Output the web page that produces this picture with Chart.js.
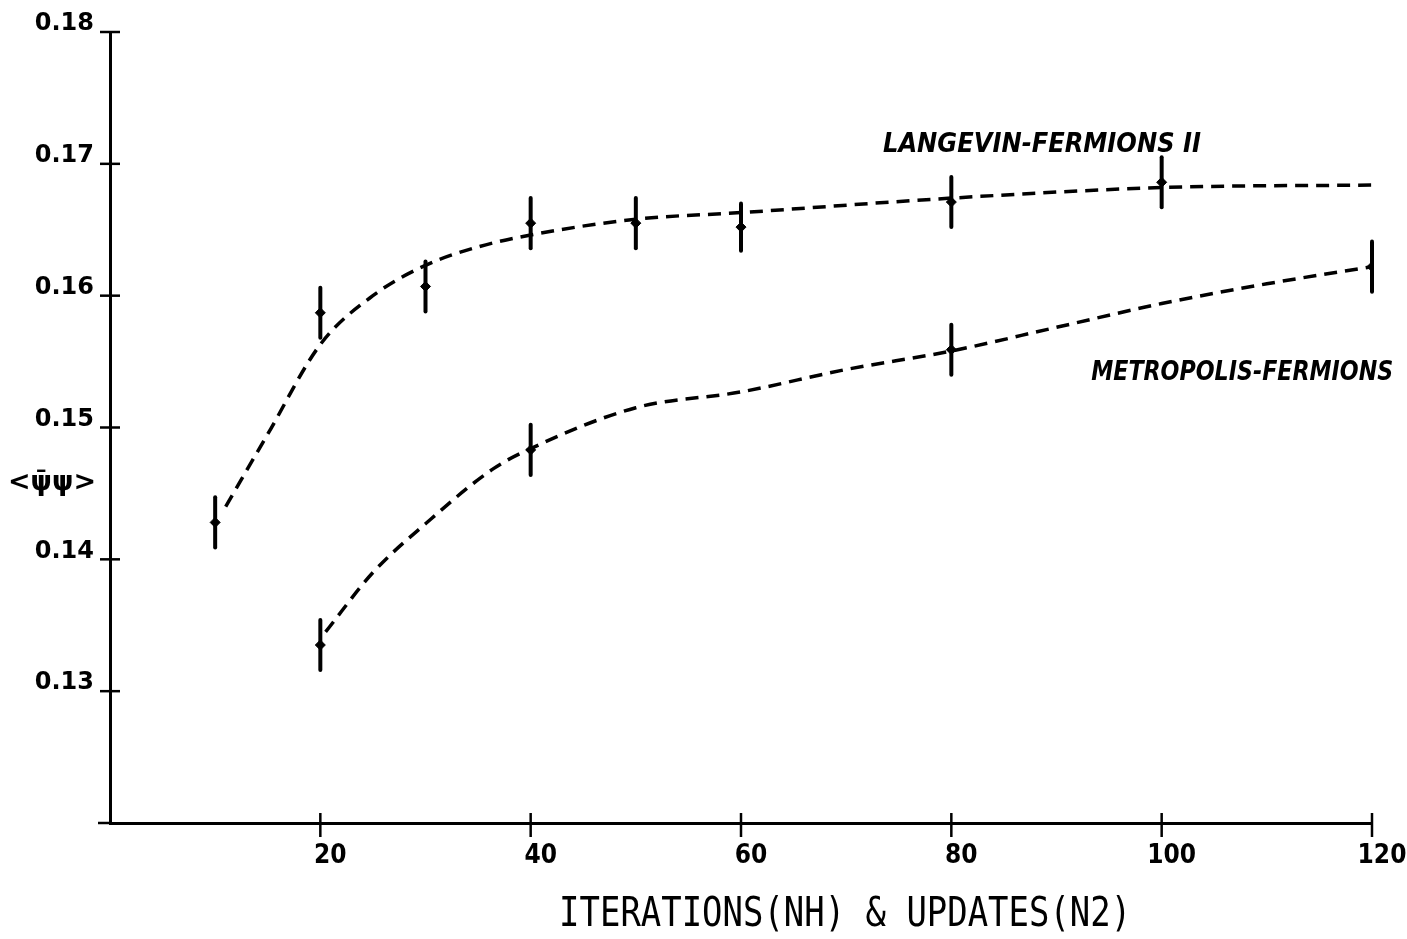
<!DOCTYPE html>
<html lang="en">
<head>
    <meta charset="UTF-8">
    <title>Langevin vs Metropolis fermions</title>
    <script src="https://cdn.jsdelivr.net/npm/chart.js"></script>
    <style>
        html, body { margin: 0; padding: 0; background: #fff; }
        .chart-container { position: relative; width: 1407px; height: 939px; }
    </style>
</head>
<body>
    <div class="chart-container">
        <canvas id="fermionChart"></canvas>
    </div>

    <script>
        // axis ticks
        const xTickValues = [0, 20, 40, 60, 80, 100, 120];
        const yTickValues = [0.12, 0.13, 0.14, 0.15, 0.16, 0.17, 0.18];

        // measured points with error bars
        const langevinX = [10, 20, 30, 40, 50, 60, 80, 100];
        const langevinY = [0.1428, 0.1587, 0.1607, 0.1655, 0.1655, 0.1652, 0.1671, 0.1686];
        const langevinErr = [0.0019, 0.0019, 0.0019, 0.0019, 0.0019, 0.0018, 0.0019, 0.0019];

        const metropolisX = [20, 40, 80, 120];
        const metropolisY = [0.1335, 0.1483, 0.1559, 0.1622];
        const metropolisErr = [0.0019, 0.0019, 0.0019, 0.0019];

        // dashed guide curves
        const langevinCurveX = [11, 15, 20, 25, 30, 35, 40, 50, 60, 80, 100, 121];
        const langevinCurveY = [0.1440, 0.1495, 0.1563, 0.1600, 0.1623, 0.1637, 0.1646, 0.1658, 0.1663, 0.1674, 0.1682, 0.1684];

        const metropolisCurveX = [20.5, 25, 30, 36.5, 40, 50, 60, 70, 80, 90, 100, 110, 120];
        const metropolisCurveY = [0.1345, 0.1390, 0.1427, 0.1469, 0.1484, 0.1515, 0.1527, 0.1544, 0.1558, 0.1576, 0.1594, 0.1609, 0.1622];

        function toPoints(xs, ys) {
            return xs.map((x, i) => ({ x: x, y: ys[i] }));
        }

        // curve labels, anchored in data coordinates
        const curveLabels = [
            { text: 'LANGEVIN-FERMIONS II', x: 73.5, y: 0.1714, width: 318 },
            { text: 'METROPOLIS-FERMIONS', x: 93.3, y: 0.1541, width: 302 }
        ];
        const xTitle = 'ITERATIONS(NH) & UPDATES(N2)';

        const errorBarPlugin = {
            id: 'errorBars',
            afterDatasetsDraw(chart) {
                const { ctx, scales: { x, y } } = chart;
                const sets = [
                    [langevinX, langevinY, langevinErr],
                    [metropolisX, metropolisY, metropolisErr]
                ];
                ctx.save();
                ctx.strokeStyle = '#000';
                ctx.lineWidth = 4;
                ctx.lineCap = 'round';
                sets.forEach(([xs, ys, errs]) => {
                    xs.forEach((v, i) => {
                        const px = x.getPixelForValue(v);
                        ctx.beginPath();
                        ctx.moveTo(px, y.getPixelForValue(ys[i] + errs[i]));
                        ctx.lineTo(px, y.getPixelForValue(ys[i] - errs[i]));
                        ctx.stroke();
                    });
                });
                ctx.restore();
            }
        };

        const decorPlugin = {
            id: 'decor',
            afterDraw(chart) {
                const { ctx, chartArea, scales: { x, y } } = chart;
                const x0 = chartArea.left;
                const y0 = chartArea.bottom;
                ctx.save();
                ctx.strokeStyle = '#000';
                ctx.lineWidth = 2.5;
                // crossing tick marks
                yTickValues.slice(1).forEach(v => {
                    const py = y.getPixelForValue(v);
                    ctx.beginPath();
                    ctx.moveTo(x0 - 10, py);
                    ctx.lineTo(x0 + 10, py);
                    ctx.stroke();
                });
                xTickValues.slice(1).forEach(v => {
                    const px = x.getPixelForValue(v);
                    ctx.beginPath();
                    ctx.moveTo(px, y0 - 10);
                    ctx.lineTo(px, y0 + 14);
                    ctx.stroke();
                });
                ctx.beginPath();
                ctx.moveTo(x0 - 12, y0);
                ctx.lineTo(x0, y0);
                ctx.stroke();

                // curve labels
                ctx.fillStyle = '#000';
                ctx.textBaseline = 'middle';
                ctx.textAlign = 'left';
                ctx.font = 'italic bold 27px "DejaVu Sans"';
                curveLabels.forEach(l => {
                    ctx.fillText(l.text, x.getPixelForValue(l.x), y.getPixelForValue(l.y), l.width);
                });

                // y axis label, horizontal
                ctx.font = 'bold 27px "DejaVu Sans"';
                ctx.textAlign = 'center';
                ctx.fillText('<\u03C8\u0304\u03C8>', x0 - 58, y.getPixelForValue(0.1458));

                // x axis title, placed as in the plot (right of centre)
                ctx.font = '41px "DejaVu Sans Mono"';
                ctx.fillText(xTitle, x.getPixelForValue(69.9), 915, 572);
                ctx.restore();
            }
        };

        const ctx = document.getElementById('fermionChart').getContext('2d');
        new Chart(ctx, {
            type: 'scatter',
            data: {
                datasets: [
                    {
                        label: 'Langevin curve',
                        data: toPoints(langevinCurveX, langevinCurveY),
                        showLine: true,
                        borderColor: '#000',
                        borderWidth: 3.5,
                        borderDash: [13, 8],
                        pointRadius: 0,
                        cubicInterpolationMode: 'monotone'
                    },
                    {
                        label: 'Metropolis curve',
                        data: toPoints(metropolisCurveX, metropolisCurveY),
                        showLine: true,
                        borderColor: '#000',
                        borderWidth: 3.5,
                        borderDash: [13, 8],
                        pointRadius: 0,
                        cubicInterpolationMode: 'monotone'
                    },
                    {
                        label: 'Langevin-Fermions II',
                        data: toPoints(langevinX, langevinY),
                        pointStyle: 'rectRot',
                        pointRadius: 5,
                        backgroundColor: '#000',
                        borderColor: '#000'
                    },
                    {
                        label: 'Metropolis-Fermions',
                        data: toPoints(metropolisX, metropolisY),
                        pointStyle: 'rectRot',
                        pointRadius: 5,
                        backgroundColor: '#000',
                        borderColor: '#000'
                    }
                ]
            },
            options: {
                responsive: true,
                maintainAspectRatio: false,
                animation: false,
                devicePixelRatio: 1,
                layout: { padding: { top: 32, right: 35, left: 0, bottom: 0 } },
                plugins: {
                    legend: { display: false },
                    tooltip: { enabled: false }
                },
                scales: {
                    x: {
                        type: 'linear',
                        min: 0,
                        max: 120,
                        afterBuildTicks: s => { s.ticks = xTickValues.map(v => ({ value: v })); },
                        afterFit: s => { s.height = 116; },
                        grid: { display: false },
                        border: { display: true, color: '#000', width: 3 },
                        ticks: {
                            color: '#000',
                            padding: 10,
                            labelOffset: 10,
                            maxRotation: 0,
                            font: { family: '"DejaVu Sans Condensed", "DejaVu Sans"', weight: 'bold', size: 26 },
                            callback: v => (v === 0 ? null : String(v))
                        },
                        title: { display: false }
                    },
                    y: {
                        type: 'linear',
                        min: 0.12,
                        max: 0.18,
                        afterBuildTicks: s => { s.ticks = yTickValues.map(v => ({ value: v })); },
                        afterFit: s => { s.width = 110; },
                        grid: { display: false },
                        border: { display: true, color: '#000', width: 3 },
                        ticks: {
                            color: '#000',
                            padding: 8,
                            labelOffset: -8,
                            font: { family: 'DejaVu Sans', weight: 'bold', size: 24 },
                            callback: v => (v === 0.12 ? null : v.toFixed(2))
                        }
                    }
                }
            },
            plugins: [errorBarPlugin, decorPlugin]
        });
    </script>
</body>
</html>
